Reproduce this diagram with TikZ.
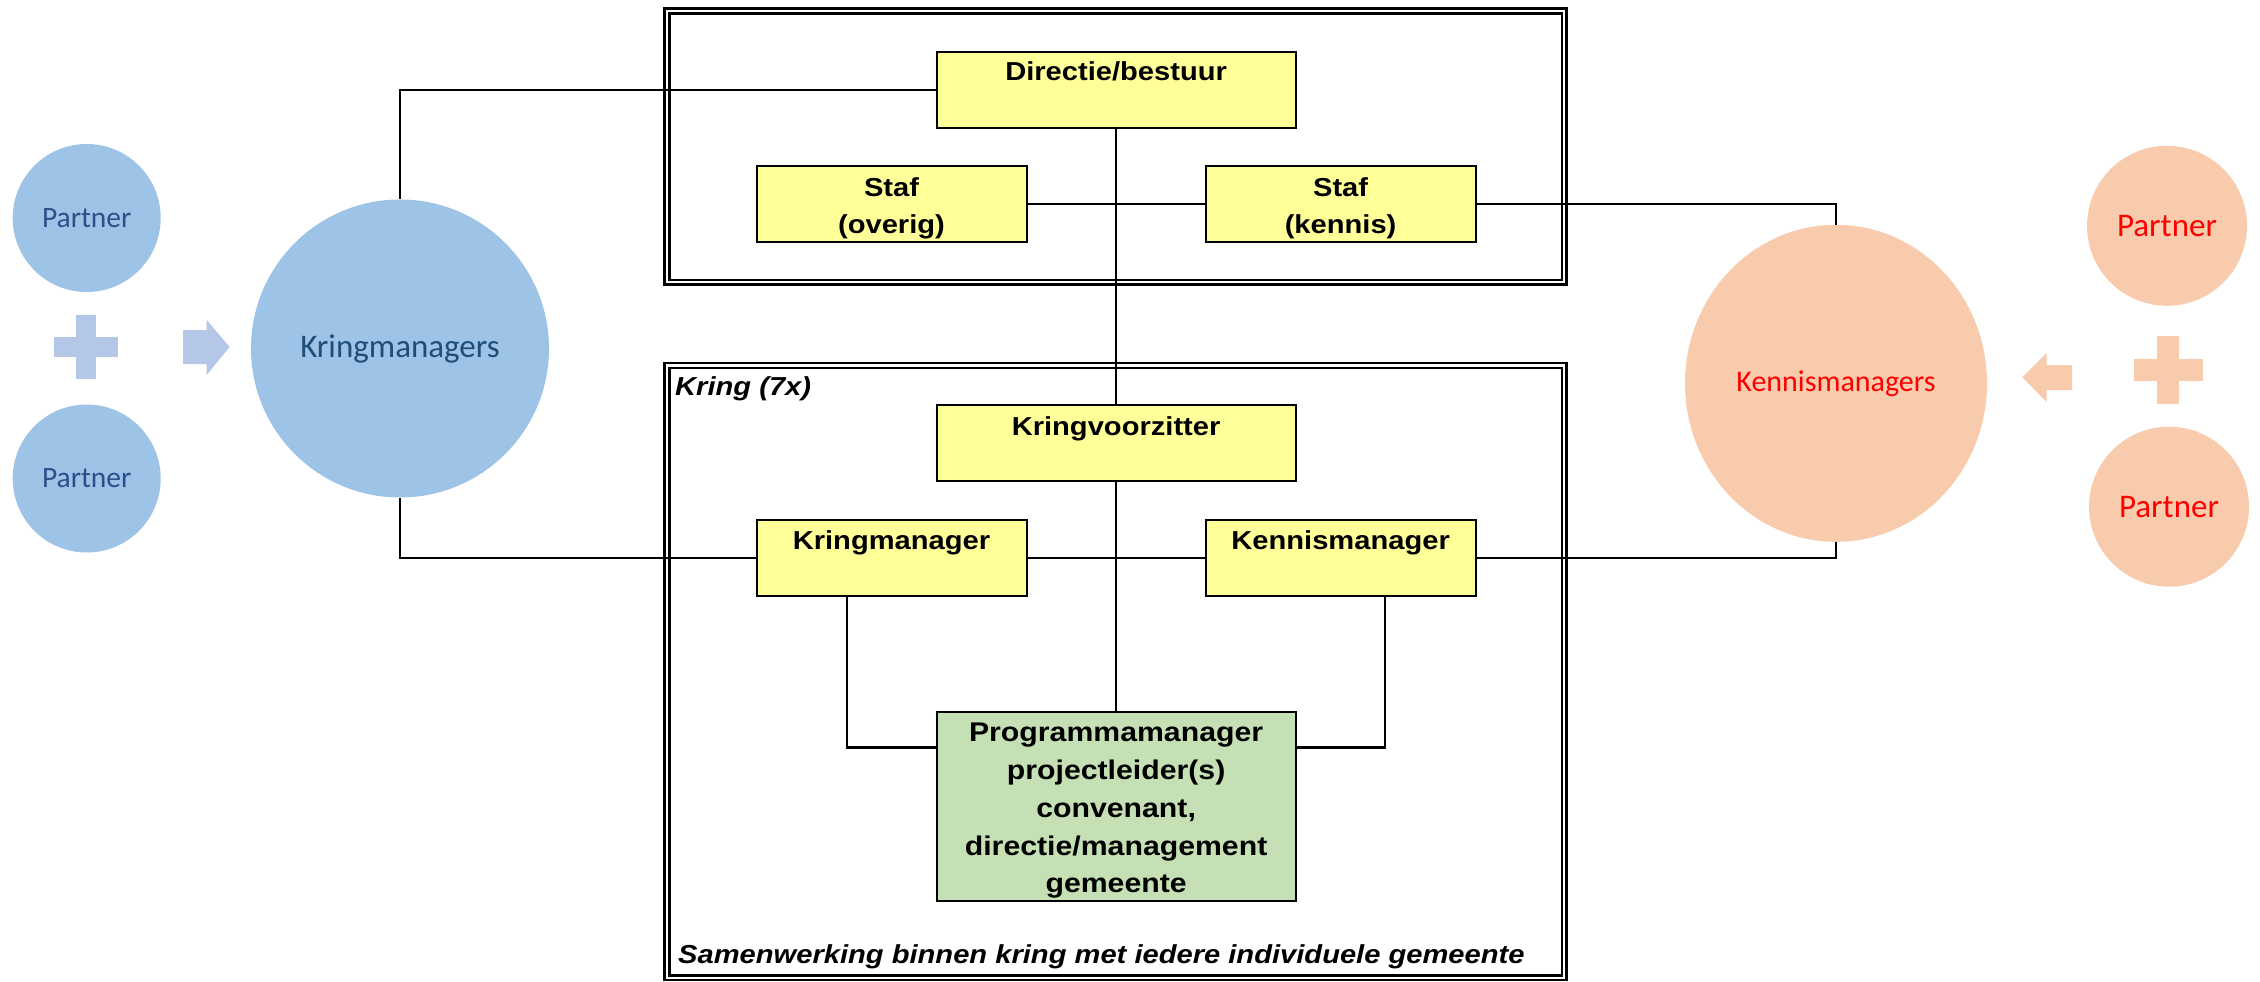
\documentclass[tikz,border=0pt]{standalone}
\usepackage{fontspec}
\newfontfamily\arialfont{Liberation Sans}[FakeStretch=1.12]
\newfontfamily\calfont{Carlito}
\usetikzlibrary{shapes.geometric}

\definecolor{boxyellow}{HTML}{FFFF99}
\definecolor{boxgreen}{HTML}{C5E0B4}
\definecolor{bluecirc}{HTML}{9DC3E6}
\definecolor{bluesym}{HTML}{B4C7E7}
\definecolor{bluetext}{HTML}{2B4F8A}
\definecolor{navytext}{HTML}{1F4E79}
\definecolor{orangecirc}{HTML}{F8CBAD}
\definecolor{redtext}{HTML}{FF0000}

% centred, top-aligned block of lines (baseline = first line)
\newcommand\boxlines[1]{\parbox[t]{340pt}{\centering #1}}

\begin{document}
\begin{tikzpicture}[x=1pt,y=-1pt,
  frame/.style={draw=black, double=white, line width=2.5pt, double distance=2.1pt,
    inner sep=0pt, fill=none},
  orgbox/.style={draw=black, line width=2pt, inner sep=0pt, fill=boxyellow},
  conn/.style={draw=black, line width=2.7pt},
  boxtext/.style={inner sep=0pt, anchor=base,
    font=\arialfont\bfseries\fontsize{26}{36.6}\selectfont},
  progtext/.style={inner sep=0pt, anchor=base,
    font=\arialfont\bfseries\fontsize{27}{37.9}\selectfont},
  notetext/.style={inner sep=0pt, anchor=base west,
    font=\arialfont\bfseries\itshape\fontsize{26}{30}\selectfont},
  bcirc/.style={circle, fill=bluecirc, inner sep=0pt},
  ocirc/.style={circle, fill=orangecirc, inner sep=0pt},
]
\useasboundingbox (0,0) rectangle (2260,982);

% ---------- double-lined frames ----------
\node[frame, minimum width=897.2pt, minimum height=271.2pt] (topframe) at (1115.6,146.6) {};
\node[frame, minimum width=897.2pt, minimum height=612.2pt] (kringframe) at (1115.6,671.6) {};

% ---------- circles (left: partners -> kringmanagers) ----------
\node[bcirc, minimum size=148pt, text=bluetext,
  font=\calfont\fontsize{29.5}{32}\selectfont] (pl1) at (86.7,218) {Partner};
\node[bcirc, minimum size=148pt, text=bluetext,
  font=\calfont\fontsize{29.5}{32}\selectfont] (pl2) at (86.7,478.5) {Partner};
\node[bcirc, minimum size=298pt, text=navytext,
  font=\calfont\fontsize{33}{36}\selectfont] (kmgrs) at (400,348.5) {Kringmanagers};

% ---------- circles (right: partners -> kennismanagers) ----------
\node[ellipse, fill=orangecirc, inner sep=0pt, minimum width=302pt, minimum height=317pt,
  text=redtext, font=\calfont\fontsize{30}{33}\selectfont] (kenms) at (1836,383.3) {Kennismanagers};
\node[ocirc, minimum size=160pt, text=redtext,
  font=\calfont\fontsize{33}{36}\selectfont] (pr1) at (2167,225.8) {Partner};
\node[ocirc, minimum size=160pt, text=redtext,
  font=\calfont\fontsize{33}{36}\selectfont] (pr2) at (2169,506.7) {Partner};

% ---------- plus signs and block arrows ----------
\fill[bluesym] (53.5,337) rectangle (117.5,357);
\fill[bluesym] (75.5,315) rectangle (95.5,379);
\fill[bluesym] (183,330) -- (206.7,330) -- (206.7,320) -- (229.6,347)
  -- (206.7,375) -- (206.7,364) -- (183,364) -- cycle;

\fill[orangecirc] (2133.7,359) rectangle (2202.5,380.7);
\fill[orangecirc] (2157,336) rectangle (2179,403.7);
\fill[orangecirc] (2072,365) -- (2046.5,365) -- (2046.5,353) -- (2022.4,377.3)
  -- (2046.5,402) -- (2046.5,390) -- (2072,390) -- cycle;

% ---------- organisation boxes ----------
\node[orgbox, minimum width=359pt, minimum height=76pt] (dir)   at (1116.1,90)    {};
\node[orgbox, minimum width=270pt, minimum height=76pt] (stafo) at (891.5,204)    {};
\node[orgbox, minimum width=270pt, minimum height=76pt] (stafk) at (1340.6,204)   {};
\node[orgbox, minimum width=359pt, minimum height=76pt] (kvz)   at (1116.1,443)   {};
\node[orgbox, minimum width=270pt, minimum height=76pt] (kmgr)  at (891.5,558)    {};
\node[orgbox, minimum width=270pt, minimum height=76pt] (kenm)  at (1340.6,558)   {};
\node[orgbox, fill=boxgreen, minimum width=359pt, minimum height=189.4pt] (prog) at (1116.1,806.3) {};

% ---------- connectors ----------
\draw[conn] (dir.west) -| (kmgrs.north);
\draw[conn] (kmgr.west) -| (kmgrs.south);
\draw[conn] (stafo.east) -- (stafk.west);
\draw[conn] (stafk.east) -| (kenms.north);
\draw[conn] (kmgr.east) -- (kenm.west);
\draw[conn] (kenm.east) -| (kenms.south);
\draw[conn] (dir.south) -- (kvz.north);
\draw[conn] (kvz.south) -- (prog.north);
\draw[conn] ([xshift=-44.5pt]kmgr.south) |- ([yshift=-37pt]prog.north west);
\draw[conn] ([xshift=44.5pt]kenm.south) |- ([yshift=-37pt]prog.north east);

% ---------- box texts ----------
\node[boxtext] (dirT)   at (1116.1,81)    {\boxlines{Directie/bestuur}};
\node[boxtext] (stafoT) at (891.5,196.7)  {\boxlines{Staf\\(overig)}};
\node[boxtext] (stafkT) at (1340.6,196.7) {\boxlines{Staf\\(kennis)}};
\node[boxtext] (kvzT)   at (1116.1,435)   {\boxlines{Kringvoorzitter}};
\node[boxtext] (kmgrT)  at (891.5,549.7)  {\boxlines{Kringmanager}};
\node[boxtext] (kenmT)  at (1340.6,549.7) {\boxlines{Kennismanager}};
\node[progtext] (progT) at (1116.1,741.3)
  {\boxlines{Programmamanager\\projectleider(s)\\convenant,\\directie/management\\gemeente}};

\node[notetext] (kringT) at (675,395) {Kring (7x)};
\node[notetext] (samenT) at (678,963) {Samenwerking binnen kring met iedere individuele gemeente};

\end{tikzpicture}
\end{document}
